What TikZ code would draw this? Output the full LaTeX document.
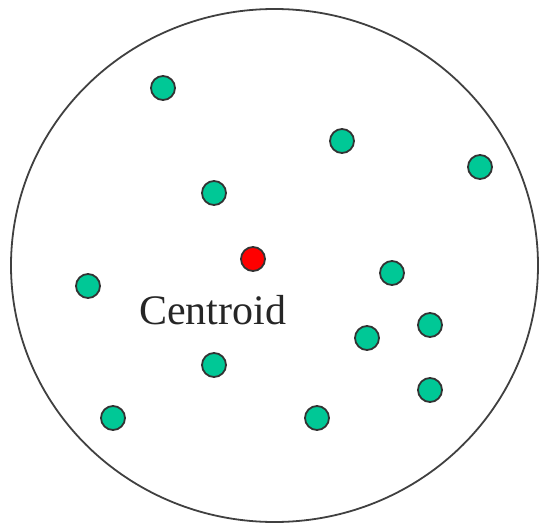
\documentclass[tikz,border=0pt]{standalone}
\usepackage{fontspec}
\setmainfont{Liberation Serif}
\definecolor{ptgreen}{RGB}{0,200,150}
\tikzset{
  pt/.style={circle, draw=black!80, line width=1.8pt, fill=ptgreen, minimum size=24pt, inner sep=0pt},
  cpt/.style={pt, fill=red},
  boundary/.style={draw=black!75, line width=1.8pt}
}
\begin{document}
\begin{tikzpicture}[x=1pt,y=-1pt]
\useasboundingbox (0,0) rectangle (542,525);
\draw[boundary] (274.5,265.5) ellipse [x radius=263.5, y radius=256.5];
\node[pt] (p1) at (163,88) {};
\node[pt] (p2) at (342,141) {};
\node[pt] (p3) at (480,167) {};
\node[pt] (p4) at (214,193) {};
\node[cpt] (c) at (253,259) {};
\node[pt] (p5) at (392,273) {};
\node[pt] (p6) at (88,286) {};
\node[pt] (p7) at (430,325) {};
\node[pt] (p8) at (367,338) {};
\node[pt] (p9) at (214,365) {};
\node[pt] (p10) at (430,390) {};
\node[pt] (p11) at (113,418) {};
\node[pt] (p12) at (317,418) {};
\node[anchor=base, inner sep=0pt, text=black!85, font=\fontsize{42}{44}\selectfont] (lbl) at (212.5,324) {Centroid};
\end{tikzpicture}
\end{document}
